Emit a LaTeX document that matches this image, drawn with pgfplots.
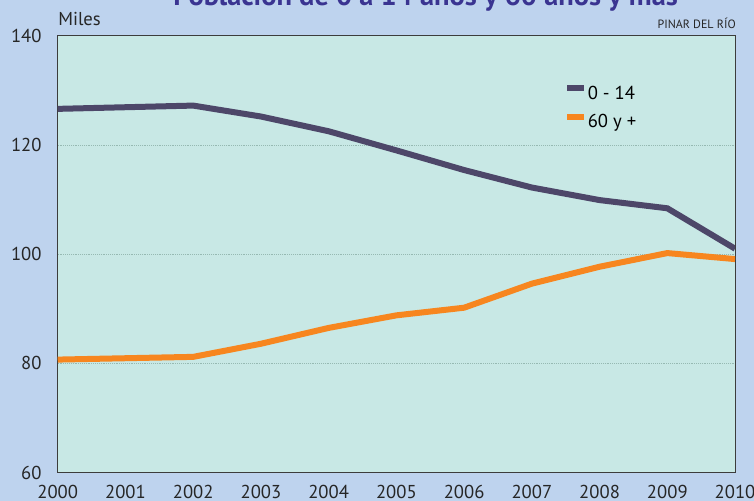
\documentclass[border=0pt]{standalone}
\usepackage{pgfplots}
\pgfplotsset{compat=1.18}
\usepackage{fontspec}
\setmainfont{PT Sans}
\definecolor{bgblue}{RGB}{190,211,238}
\definecolor{plotbg}{RGB}{200,232,229}
\definecolor{darkline}{RGB}{77,71,105}
\definecolor{orangeline}{RGB}{247,134,31}
\definecolor{titlecol}{RGB}{58,52,145}
\definecolor{gridcol}{RGB}{150,185,178}
\definecolor{axiscol}{RGB}{60,60,60}
\begin{document}
\begin{tikzpicture}
\fill[bgblue] (-43.3pt,-21.2pt) rectangle (522.2pt,354.5pt);
\useasboundingbox (-43.3pt,-21.2pt) rectangle (522.2pt,354.5pt);
\clip (-43.3pt,-21.2pt) rectangle (522.2pt,354.5pt);
\begin{axis}[
  at={(0pt,0pt)}, anchor=south west,
  scale only axis,
  width=508pt, height=327.75pt,
  xmin=2000, xmax=2010, ymin=60, ymax=140,
  xtick={2000,2001,...,2010},
  ytick={60,80,100,120,140},
  major tick length=0pt,
  /pgf/number format/assume math mode=true,
  /pgf/number format/1000 sep={},
  tick label style={font=\fontsize{14}{16}\selectfont, color=black!85},
  xticklabel style={yshift=-6pt},
  yticklabel style={xshift=-8.6pt},
  axis background/.style={fill=plotbg},
  axis line style={draw=axiscol, line width=0.8pt},
  ymajorgrids,
  major grid style={densely dotted, gridcol, line width=0.6pt},
  legend cell align=left,
  legend image code/.code={\draw[#1, line width=4.5pt] (0pt,5pt) -- (12.5pt,5pt);},
  legend style={at={(0.7475,0.887)}, anchor=north west, draw=none, fill=none,
    inner sep=0pt, column sep=0.6pt, row sep=7.5pt,
    nodes={inner sep=0pt, text height=10pt, text depth=3pt},
    font=\fontsize{14}{16}\selectfont},
]
\addplot[darkline, line width=4.5pt, line join=miter] coordinates {
(2000,126.6) (2001,126.9) (2002,127.2) (2003,125.2) (2004,122.5) (2005,119.0)
(2006,115.4) (2007,112.2) (2008,109.9) (2009,108.4) (2010,101.0)};
\addlegendentry{0 - 14}
\addplot[orangeline, line width=4.5pt, line join=miter] coordinates {
(2000,80.7) (2001,80.95) (2002,81.2) (2003,83.6) (2004,86.5) (2005,88.8)
(2006,90.2) (2007,94.6) (2008,97.7) (2009,100.2) (2010,99.1)};
\addlegendentry{60 y +}
\end{axis}
\node[anchor=base west, inner sep=0pt, font=\fontsize{14}{16}\selectfont, text=black!85] at (0.2pt,335pt) {Miles};
\node[anchor=base east, inner sep=0pt, font=\fontsize{9}{10}\selectfont, text=black!85] at (508.7pt,333.5pt) {PINAR DEL RÍO};
\node[anchor=base, inner sep=0pt, font=\bfseries\fontsize{21.3}{23}\selectfont, text=titlecol] at (275.9pt,350pt) {Población de 0 a 14 años y 60 años y más};
\end{tikzpicture}
\end{document}
